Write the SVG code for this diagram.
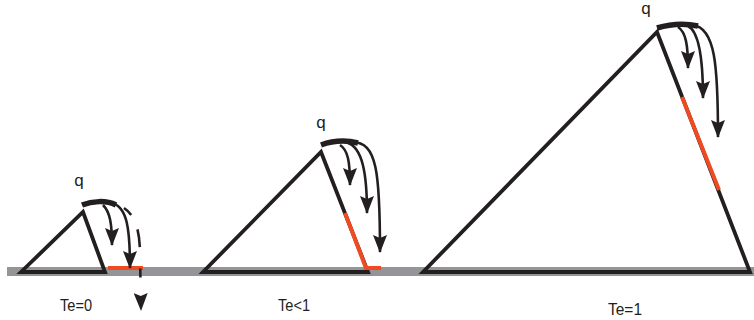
<svg xmlns="http://www.w3.org/2000/svg" width="754" height="320" viewBox="0 0 754 320">
<style>
.tri{fill:none;stroke:#231f20;stroke-width:3.8;stroke-linejoin:miter;stroke-miterlimit:3}
.cap{fill:none;stroke:#231f20;stroke-width:5.5;stroke-linecap:butt}
.arr{fill:none;stroke:#231f20;stroke-width:2.6}
.red{fill:none;stroke:#ef4b23;stroke-width:4}
.lbl{font-family:"Liberation Sans",Arial,sans-serif;font-size:17px;fill:#231f20}
</style>
<defs>
<marker id="ah" markerUnits="userSpaceOnUse" viewBox="0 0 18 14" markerWidth="19" markerHeight="14" refX="17" refY="7" orient="auto">
<path d="M0,0 L18,7 L0,14 L3,7 z" fill="#231f20"/>
</marker>
</defs>
<rect x="7" y="267" width="747" height="9" fill="#939598"/>
<g id="small">
<polygon class="tri" points="21,272 83,212 105,272"/>
<path class="cap" d="M82,205 C92,201 106,200 116,205"/>
<path class="red" d="M108,268 L143,268"/>
<text class="lbl" x="79" y="186" text-anchor="middle">q</text>
<text class="lbl" x="60" y="311" textLength="32" lengthAdjust="spacingAndGlyphs">Te=0</text>
</g>
<g id="medium">
<polygon class="tri" points="203,272 321,152 368,272"/>
<path class="cap" d="M321,145 C332,141 346,140 358,143"/>
<path class="red" d="M345,213 L366,268 L381,268"/>
<text class="lbl" x="321" y="128" text-anchor="middle">q</text>
<text class="lbl" x="278" y="311" textLength="32" lengthAdjust="spacingAndGlyphs">Te&lt;1</text>
</g>
<g id="large">
<polygon class="tri" points="423,272 657,32 750,272"/>
<path class="cap" d="M657,28 C670,24 685,23 698,26"/>
<path class="red" d="M682,97 L719,190"/>
<text class="lbl" x="646" y="14" text-anchor="middle" font-size="16">q</text>
<text class="lbl" x="608" y="315" textLength="34" lengthAdjust="spacingAndGlyphs">Te=1</text>
</g>
<g id="connectors">
<path class="arr" d="M103,205 C110,212 112,224 112,245" marker-end="url(#ah)"/>
<path class="arr" d="M112,203 C127,207 130,228 130,268" marker-end="url(#ah)"/>
<path class="arr" d="M124,208 C136,216 140,232 140,255 L141,310" stroke-dasharray="10 16 18 21 9 200" marker-end="url(#ah)"/>
<path class="arr" d="M340,145 C348,150 350,162 350,185" marker-end="url(#ah)"/>
<path class="arr" d="M348,143 C362,148 367,172 367,213" marker-end="url(#ah)"/>
<path class="arr" d="M352,142 C377,142 380,172 380,252" marker-end="url(#ah)"/>
<path class="arr" d="M678,27 C686,32 688,46 688,68" marker-end="url(#ah)"/>
<path class="arr" d="M688,26 C700,32 703,62 703,98" marker-end="url(#ah)"/>
<path class="arr" d="M693,25 C715,28 718,64 718,137" marker-end="url(#ah)"/>
</g>
</svg>
